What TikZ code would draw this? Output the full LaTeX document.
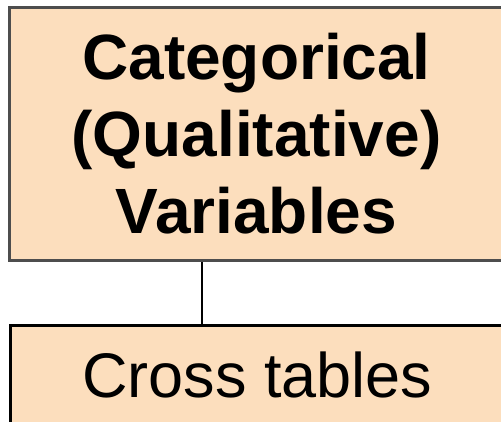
\documentclass[tikz,border=0pt]{standalone}
\usepackage{fontspec}
\setmainfont{Liberation Sans}
\definecolor{peach}{RGB}{252,222,189}
\definecolor{edgegray}{RGB}{77,77,77}
\tikzset{
  catbox/.style={draw=edgegray, line width=3pt, fill=peach, rectangle, inner sep=0pt, align=center,
    font=\bfseries\fontsize{64}{77}\selectfont},
  subbox/.style={draw=black, line width=3pt, fill=peach, rectangle, inner sep=0pt, align=center,
    font=\fontsize{63}{74}\selectfont},
  link/.style={draw=black, line width=2.5pt}
}
\begin{document}
\begin{tikzpicture}[x=1pt,y=1pt]
\useasboundingbox (0,0) rectangle (501,-422);
\clip (0,0) rectangle (501,-422);
\node[catbox, minimum width=494pt, minimum height=253pt] (cat) at (256.5,-134) {Categorical\\(Qualitative)\\Variables};
\node[subbox, minimum width=494pt, minimum height=100pt] (cross) at (257.5,-375) {Cross tables};
\coordinate (lx) at (202,0);
\draw[link] (cat.south -| lx) -- (cross.north -| lx);
\end{tikzpicture}
\end{document}
